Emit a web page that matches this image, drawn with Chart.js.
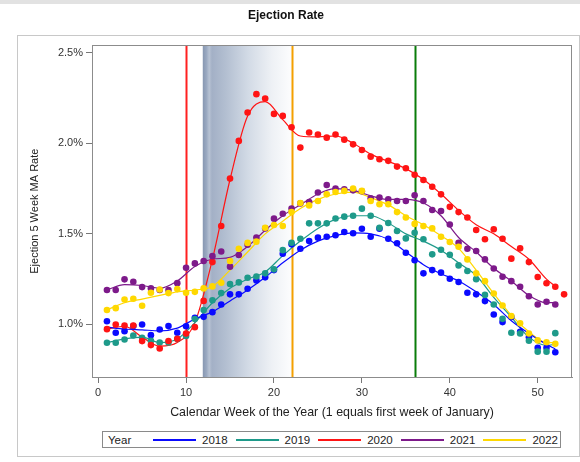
<!DOCTYPE html>
<html><head><meta charset="utf-8">
<script src="https://cdn.jsdelivr.net/npm/chart.js@4.4.1/dist/chart.umd.min.js"></script>
<style>
html,body{margin:0;padding:0;background:#fff;}
#wrap{position:relative;width:580px;height:462px;overflow:hidden;font-family:"Liberation Sans",Arial,sans-serif;}
#topbar{position:absolute;left:0;top:0;width:580px;height:4px;background:#e2e2e2;}
#frame{position:absolute;left:17px;top:35px;width:563px;height:422px;border:1px solid #c8c8c8;box-sizing:border-box;}
#c{position:absolute;left:0;top:0;}
#legend{position:absolute;left:102px;top:431px;width:459px;height:17px;border:1px solid #8a8a8a;box-sizing:border-box;display:flex;align-items:center;font-size:11.5px;color:#222;background:#fff;white-space:nowrap;}
#legend .ttl{margin-left:5px;width:27px;}
#legend .ln{display:inline-block;width:43px;height:0;border-top:2px solid #000;margin-left:8px;}
#legend .ln.first{margin-left:18px;}
#legend .lb{margin-left:6px;}
</style>
</head><body>
<div id="wrap">
<div id="topbar"></div>
<div id="frame"></div>
<canvas id="c" width="580" height="462"></canvas>
<div id="legend"></div>
</div>
<script>
// ---------- data ----------
const years = ['2018','2019','2020','2021','2022'];
const colors = ['#0a0aff','#1e9a8a','#ff1414','#7d1a8a','#ffd800'];
const weeks = [1,2,3,4,5,6,7,8,9,10,11,12,13,14,15,16,17,18,19,20,21,22,23,24,25,26,27,28,29,30,31,32,33,34,35,36,37,38,39,40,41,42,43,44,45,46,47,48,49,50,51,52,53];

const rate2018 = [1.018,0.954,0.963,0.991,1.0,0.941,0.972,0.991,0.954,0.99,1.037,1.042,1.068,1.11,1.166,1.166,1.197,1.243,1.26,1.30,1.39,1.442,1.418,1.46,1.479,1.484,1.492,1.51,1.503,1.528,1.484,1.528,1.473,1.448,1.396,1.354,1.282,1.30,1.286,1.252,1.234,1.175,1.166,1.129,1.055,1.013,1.041,0.96,0.93,0.871,0.871,0.847];
const rate2019 = [0.899,0.899,0.917,0.939,0.926,0.91,0.90,0.90,0.92,0.936,1.03,1.08,1.133,1.173,1.223,1.232,1.258,1.265,1.282,1.304,1.41,1.451,1.473,1.558,1.558,1.558,1.585,1.595,1.60,1.639,1.60,1.534,1.56,1.516,1.475,1.506,1.47,1.387,1.412,1.384,1.326,1.295,1.25,1.163,1.11,1.031,0.954,0.95,0.91,0.85,0.85,0.952];
const rate2020 = [0.974,1.0,0.994,0.994,0.908,0.886,0.867,0.908,0.921,0.95,0.985,1.13,1.344,1.543,1.805,2.013,2.17,2.271,2.247,2.162,2.151,2.088,1.976,2.059,2.048,2.031,2.048,2.02,1.994,1.963,1.926,1.912,1.903,1.871,1.862,1.826,1.797,1.76,1.718,1.649,1.62,1.59,1.521,1.47,1.525,1.473,1.363,1.42,1.344,1.262,1.227,1.208,1.166];
const rate2021 = [1.19,1.19,1.249,1.236,1.206,1.199,1.19,1.19,1.228,1.313,1.337,1.35,1.377,1.403,1.319,1.383,1.44,1.48,1.53,1.584,1.611,1.639,1.668,1.676,1.728,1.77,1.75,1.746,1.74,1.735,1.696,1.70,1.69,1.681,1.681,1.713,1.681,1.632,1.626,1.552,1.451,1.418,1.405,1.359,1.309,1.263,1.239,1.208,1.156,1.11,1.125,1.11];
const rate2022 = [1.08,1.09,1.138,1.142,1.103,1.175,1.193,1.173,1.195,1.175,1.18,1.199,1.21,1.23,1.35,1.418,1.45,1.457,1.534,1.549,1.543,1.62,1.67,1.657,1.681,1.718,1.731,1.737,1.75,1.737,1.681,1.663,1.663,1.62,1.59,1.555,1.543,1.53,1.484,1.455,1.429,1.359,1.282,1.239,1.171,1.105,1.046,1.006,0.95,0.912,0.902,0.893];

// smoothed (loess-like) curves
const smoothWeeks = [1,3,5,7,9,11,13,15,17,19,21,23,25,27,29,31,33,35,37,39,41,43,45,47,49,51,52];
const smooth2018 = [0.985,0.975,0.97,0.965,0.98,1.03,1.07,1.13,1.19,1.26,1.34,1.41,1.46,1.49,1.505,1.50,1.47,1.40,1.33,1.28,1.24,1.18,1.11,1.02,0.95,0.89,0.865];
const smooth2019 = [0.90,0.92,0.93,0.90,0.92,1.01,1.12,1.20,1.25,1.29,1.38,1.46,1.53,1.58,1.60,1.60,1.56,1.50,1.46,1.41,1.34,1.27,1.15,1.04,0.93,0.885,0.89];
const smooth2020 = [0.975,0.99,0.93,0.88,0.90,1.01,1.36,1.80,2.15,2.23,2.13,2.04,2.035,2.04,2.0,1.94,1.90,1.86,1.80,1.72,1.63,1.55,1.50,1.43,1.36,1.25,1.21];
const smooth2021 = [1.19,1.22,1.215,1.20,1.24,1.32,1.36,1.37,1.43,1.52,1.60,1.66,1.72,1.75,1.74,1.71,1.69,1.69,1.67,1.60,1.48,1.40,1.31,1.24,1.16,1.12,1.12];
const smooth2022 = [1.08,1.12,1.14,1.16,1.18,1.19,1.21,1.30,1.40,1.50,1.57,1.64,1.69,1.72,1.73,1.70,1.66,1.60,1.55,1.49,1.42,1.30,1.17,1.05,0.96,0.90,0.90];

const xTicks = [0,10,20,30,40,50];
const yTicks = [1.0,1.5,2.0,2.5];
const eventWeeks = [10,22,36];
const eventColors = ['#ff2020','#f4a000','#0a7d0a'];
const bandWeeks = [11.9,22.4];

const rates = [rate2018,rate2019,rate2020,rate2021,rate2022];
const smooths = [smooth2018,smooth2019,smooth2020,smooth2021,smooth2022];

// ---------- chart ----------
const FONT = '"Liberation Sans", Arial, sans-serif';
const datasets = [];
years.forEach((y,i)=>{
  datasets.push({
    label: y+' smooth',
    data: smoothWeeks.map((w,j)=>({x:w,y:smooths[i][j]})),
    showLine:true, borderColor:colors[i], borderWidth:1.2, pointRadius:0,
    cubicInterpolationMode:'monotone', fill:false, order:10+i
  });
});
years.forEach((y,i)=>{
  datasets.push({
    label: y,
    data: rates[i].map((v,j)=>({x:weeks[j],y:v})),
    showLine:false, backgroundColor:colors[i], borderWidth:0, pointRadius:3.3, pointHoverRadius:3.3, order:5-i
  });
});

const bgPlugin = {
  id:'bg',
  beforeDatasetsDraw(chart){
    const {ctx, chartArea:a, scales:{x}} = chart;
    ctx.save();
    const x0 = x.getPixelForValue(bandWeeks[0]), x1 = x.getPixelForValue(bandWeeks[1]);
    const g = ctx.createLinearGradient(x0,0,x1,0);
    g.addColorStop(0,'#8797b1');
    g.addColorStop(0.04,'#9aa9c1');
    g.addColorStop(0.07,'#b7c2d3');
    g.addColorStop(0.1,'#a3b0c6');
    g.addColorStop(0.25,'#b3bfd1');
    g.addColorStop(0.5,'#d3dbe6');
    g.addColorStop(0.75,'#eef1f5');
    g.addColorStop(1,'#ffffff');
    ctx.fillStyle = g;
    ctx.fillRect(x0,a.top,x1-x0,a.bottom-a.top);
    eventWeeks.forEach((w,i)=>{
      const px = Math.round(x.getPixelForValue(w))+0.5;
      ctx.strokeStyle = eventColors[i]; ctx.lineWidth = 2;
      ctx.beginPath(); ctx.moveTo(px,a.top); ctx.lineTo(px,a.bottom); ctx.stroke();
    });
    ctx.restore();
  },
  afterDraw(chart){
    const {ctx, chartArea:a} = chart;
    ctx.save(); ctx.strokeStyle='#8c8c8c'; ctx.lineWidth=1;
    ctx.strokeRect(Math.round(a.left)+0.5,Math.round(a.top)+0.5,Math.round(a.right-a.left)-1,Math.round(a.bottom-a.top));
    ctx.restore();
  }
};

new Chart(document.getElementById('c'),{
  type:'scatter',
  data:{datasets},
  options:{
    responsive:false, animation:false, devicePixelRatio:1,
    layout:{padding:{left:0,right:8,top:0,bottom:40}},
    events:[],
    plugins:{
      legend:{display:false}, tooltip:{enabled:false},
      title:{display:true,text:'Ejection Rate',color:'#111',font:{family:FONT,size:12,weight:'bold'},padding:{top:8,bottom:23}}
    },
    scales:{
      x:{type:'linear',min:-0.7,max:53.9,
        afterBuildTicks:s=>{s.ticks=xTicks.map(v=>({value:v}));},
        afterFit:s=>{s.height=45;},
        grid:{drawOnChartArea:false,drawTicks:true,tickLength:6,color:'#777'},
        border:{color:'#8c8c8c'},
        ticks:{padding:3,color:'#333',font:{family:FONT,size:11},maxRotation:0,callback:v=>String(v)},
        title:{display:true,text:'Calendar Week of the Year (1 equals first week of January)',color:'#222',font:{family:FONT,size:12.4},padding:{top:0,bottom:2}}
      },
      y:{type:'linear',min:0.71,max:2.54,
        afterBuildTicks:s=>{s.ticks=yTicks.map(v=>({value:v}));},
        afterFit:s=>{s.width=92;},
        grid:{drawOnChartArea:false,drawTicks:true,tickLength:6,color:'#777'},
        border:{color:'#8c8c8c'},
        ticks:{padding:3,color:'#333',font:{family:FONT,size:11},callback:v=>Number(v).toFixed(1)+'%'},
        title:{display:true,text:'Ejection 5 Week MA Rate',color:'#222',font:{family:FONT,size:11},padding:{top:28,bottom:0}}
      }
    }
  },
  plugins:[bgPlugin]
});

// ---------- legend ----------
const lg = document.getElementById('legend');
const t = document.createElement('span'); t.className='ttl'; t.textContent='Year'; lg.appendChild(t);
years.forEach((y,i)=>{
  const l = document.createElement('span'); l.className='ln'+(i===0?' first':''); l.style.borderTopColor=colors[i]; lg.appendChild(l);
  const s = document.createElement('span'); s.className='lb'; s.textContent=y; lg.appendChild(s);
});
</script>
</body></html>
